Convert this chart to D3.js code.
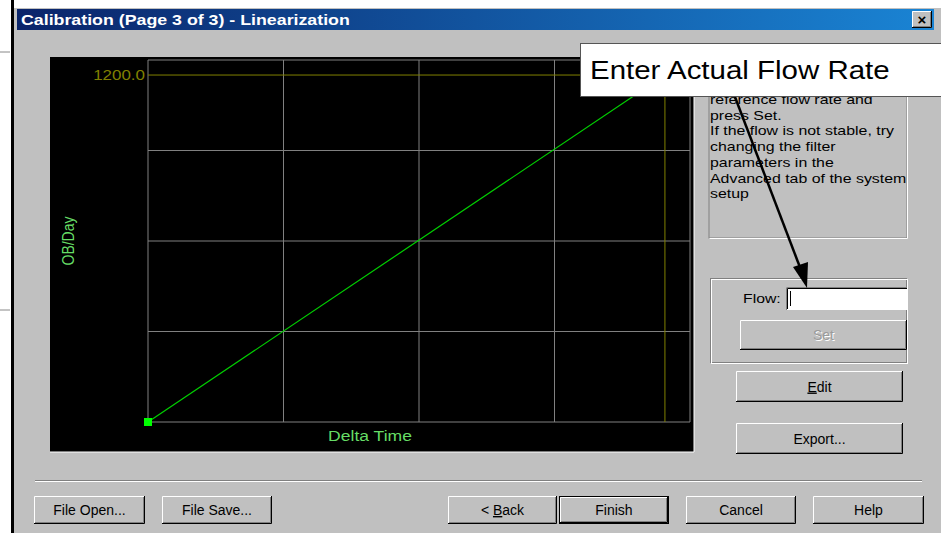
<!DOCTYPE html>
<html>
<head>
<meta charset="utf-8">
<script src="https://cdn.jsdelivr.net/npm/d3@7"></script>
<style>
	body { margin: 0; background: #fff; }
	text { font-family: 'Liberation Sans', Arial, sans-serif; }
</style>
</head>
<body>
<div id="d3-wrapper"></div>
<script>
// calibration data
const deltaTime = [0, 3.815];
const flowRate = [0, 1200];
const yTickValues = [1200];
const yTickLabels = ['1200.0'];
const xGridCount = 4;
const yGridCount = 4;
const yMax = 1252;

const helpLines = ['reference flow rate and', 'press Set.', 'If the flow is not stable, try',
	'changing the filter', 'parameters in the', 'Advanced tab of the system', 'setup'];
const bottomButtons = [
	{label: 'File Open...', x: 34, w: 111},
	{label: 'File Save...', x: 162, w: 110},
	{label: '< Back', x: 448, w: 109, u: 2},
	{label: 'Finish', x: 559, w: 110, def: true},
	{label: 'Cancel', x: 686, w: 110},
	{label: 'Help', x: 813, w: 111}
];

const W = 941, H = 533;
const SX = 1.17; // screenshot is stretched horizontally
const plot = {left: 148, right: 690, top: 60, bottom: 422};

const svg = d3.select('#d3-wrapper')
	.append('svg')
	.attr('width', W)
	.attr('height', H);

// window frame
svg.append('rect').attr('x', 0).attr('y', 0).attr('width', W).attr('height', H).attr('fill', '#fff');
svg.append('rect').attr('x', 14).attr('y', 8).attr('width', W - 14).attr('height', H - 8).attr('fill', '#c0c0c0');
svg.append('rect').attr('x', 11).attr('y', 0).attr('width', 3).attr('height', H).attr('fill', '#000');
svg.append('line').attr('x1', 0).attr('x2', 10).attr('y1', 52).attr('y2', 52).attr('stroke', '#888');
svg.append('line').attr('x1', 0).attr('x2', 10).attr('y1', 310).attr('y2', 310).attr('stroke', '#888');

const grad = svg.append('defs').append('linearGradient').attr('id', 'titlegrad');
grad.append('stop').attr('offset', '0%').attr('stop-color', '#0a246a');
grad.append('stop').attr('offset', '100%').attr('stop-color', '#1a84d4');
svg.append('rect').attr('x', 17).attr('y', 9).attr('width', 917).attr('height', 21).attr('fill', 'url(#titlegrad)');
stext(21, 25, 'Calibration (Page 3 of 3) - Linearization', 15.2, 'start', '#fff').style('font-weight', 'bold');

// close button
bevel(912, 11, 20, 17, false);
svg.append('text').attr('x', 922).attr('y', 25).attr('text-anchor', 'middle')
	.style('font-size', '15px').style('font-weight', 'bold').text('×');

// chart area
svg.append('rect').attr('x', 50).attr('y', 57).attr('width', 644).attr('height', 395).attr('fill', '#000');
svg.append('line').attr('x1', 50).attr('x2', 694).attr('y1', 452).attr('y2', 452).attr('stroke', '#fff');
svg.append('line').attr('x1', 694).attr('x2', 694).attr('y1', 57).attr('y2', 452).attr('stroke', '#fff');

const xScale = d3.scaleLinear().domain([0, xGridCount]).range([plot.left, plot.right]);
const yScale = d3.scaleLinear().domain([0, yMax]).range([plot.bottom, plot.top]);

const g = svg.append('g');
d3.range(0, xGridCount + 1).forEach(i => {
	g.append('line').attr('x1', xScale(i)).attr('x2', xScale(i))
		.attr('y1', plot.top).attr('y2', plot.bottom).attr('stroke', '#808080');
});
d3.range(0, yGridCount + 1).forEach(i => {
	const v = i * yMax / yGridCount;
	g.append('line').attr('x1', plot.left).attr('x2', plot.right)
		.attr('y1', yScale(v)).attr('y2', yScale(v)).attr('stroke', '#808080');
});

// max calibration point markers
g.append('line').attr('x1', plot.left).attr('x2', plot.right)
	.attr('y1', yScale(flowRate[1])).attr('y2', yScale(flowRate[1])).attr('stroke', '#808000');
g.append('line').attr('x1', xScale(deltaTime[1])).attr('x2', xScale(deltaTime[1]))
	.attr('y1', plot.top).attr('y2', plot.bottom).attr('stroke', '#808000');

const yAxis = d3.axisLeft(yScale).tickValues(yTickValues).tickSize(0)
	.tickFormat((d, i) => yTickLabels[i]);
const yAx = svg.append('g').attr('transform', `translate(${plot.left - 3},0)`).call(yAxis);
yAx.select('.domain').remove();
yAx.selectAll('text').attr('fill', '#808000').style('font-size', '14.5px')
	.style('font-family', "'Liberation Sans', Arial, sans-serif")
	.attr('x', 0)
	.attr('transform', `scale(${SX},1)`);

const line = d3.line().x((d, i) => xScale(deltaTime[i])).y(d => yScale(d));
g.append('path').datum(flowRate).attr('d', line).attr('fill', 'none')
	.attr('stroke', '#00d000').attr('stroke-width', 1.2);
g.append('rect').attr('x', xScale(deltaTime[0]) - 4).attr('y', yScale(flowRate[0]) - 4)
	.attr('width', 8).attr('height', 8).attr('fill', '#00ff00');

stext(370, 441, 'Delta Time', 15, 'middle', '#66dd66');
svg.append('text').attr('transform', `translate(74,241) scale(${SX},1) rotate(-90)`).attr('text-anchor', 'middle')
	.attr('fill', '#66dd66').style('font-size', '14px').text('OB/Day');

// help text box
svg.append('rect').attr('x', 709).attr('y', 60).attr('width', 198).attr('height', 178)
	.attr('fill', '#c0c0c0').attr('stroke', '#808080');
svg.append('path').attr('d', 'M709.5,238.5 H907.5 V60').attr('fill', 'none').attr('stroke', '#fff');
helpLines.forEach((t, i) => {
	stext(710, 104 + i * 15.7, t, 13.6, 'start', '#000');
});

// flow group
svg.append('rect').attr('x', 710.5).attr('y', 278.5).attr('width', 196).attr('height', 84)
	.attr('fill', 'none').attr('stroke', '#808080');
svg.append('rect').attr('x', 711.5).attr('y', 279.5).attr('width', 196).attr('height', 84)
	.attr('fill', 'none').attr('stroke', '#fff');
stext(743, 303, 'Flow:', 13.5, 'start', '#000');
svg.append('rect').attr('x', 786).attr('y', 287).attr('width', 121).attr('height', 23).attr('fill', '#fff');
svg.append('path').attr('d', 'M786.5,310 V287.5 H907').attr('fill', 'none').attr('stroke', '#808080');
svg.append('path').attr('d', 'M787.5,309 V288.5 H907').attr('fill', 'none').attr('stroke', '#000');
svg.append('line').attr('x1', 790.5).attr('x2', 790.5).attr('y1', 291).attr('y2', 306).attr('stroke', '#000');

button(740, 320, 167, 30, 'Set', {disabled: true});
button(736, 371, 167, 31, 'Edit', {u: 0});
button(736, 423, 167, 31, 'Export...');

// bottom separator
svg.append('line').attr('x1', 35).attr('x2', 922).attr('y1', 480.5).attr('y2', 480.5).attr('stroke', '#808080');
svg.append('line').attr('x1', 35).attr('x2', 922).attr('y1', 481.5).attr('y2', 481.5).attr('stroke', '#fff');

bottomButtons.forEach(b => button(b.x, 496, b.w, 28, b.label, b));

// annotation
svg.append('line').attr('x1', 735).attr('y1', 97).attr('x2', 801).attr('y2', 270)
	.attr('stroke', '#000').attr('stroke-width', 2.5);
svg.append('path').attr('d', 'M807,288 L793,267 L808,262 Z').attr('fill', '#000');
svg.append('rect').attr('x', 580.5).attr('y', 43.5).attr('width', 370).attr('height', 53)
	.attr('fill', '#fff').attr('stroke', '#555');
stext(590, 79, 'Enter Actual Flow Rate', 25.2, 'start', '#000');

function stext(x, y, str, size, anchor, color) {
	return svg.append('text')
		.attr('transform', `translate(${x},${y}) scale(${SX},1)`)
		.attr('text-anchor', anchor)
		.attr('fill', color)
		.style('font-size', size + 'px')
		.text(str);
}

function bevel(x, y, w, h, sunken) {
	svg.append('rect').attr('x', x).attr('y', y).attr('width', w).attr('height', h).attr('fill', '#c0c0c0');
	svg.append('path').attr('d', `M${x + 0.5},${y + h} V${y + 0.5} H${x + w}`)
		.attr('fill', 'none').attr('stroke', sunken ? '#808080' : '#fff');
	svg.append('path').attr('d', `M${x},${y + h - 0.5} H${x + w - 0.5} V${y}`)
		.attr('fill', 'none').attr('stroke', sunken ? '#fff' : '#000');
	svg.append('path').attr('d', `M${x + 1},${y + h - 1.5} H${x + w - 1.5} V${y + 1}`)
		.attr('fill', 'none').attr('stroke', '#808080');
}

function button(x, y, w, h, label, opt) {
	opt = opt || {};
	if (opt.def) {
		svg.append('rect').attr('x', x + 0.5).attr('y', y + 0.5).attr('width', w - 1).attr('height', h - 1)
			.attr('fill', 'none').attr('stroke', '#000');
		bevel(x + 1, y + 1, w - 2, h - 2, false);
	} else {
		bevel(x, y, w, h, false);
	}
	if (opt.disabled) {
		svg.append('text').attr('x', x + w / 2 + 1).attr('y', y + h / 2 + 6)
			.attr('text-anchor', 'middle').style('font-size', '14px').attr('fill', '#fff').text(label);
	}
	const t = svg.append('text').attr('x', x + w / 2).attr('y', y + h / 2 + 5)
		.attr('text-anchor', 'middle').style('font-size', '14px')
		.attr('fill', opt.disabled ? '#9a9a9a' : '#000');
	if (opt.u !== undefined) {
		t.append('tspan').text(label.slice(0, opt.u));
		t.append('tspan').style('text-decoration', 'underline').text(label[opt.u]);
		t.append('tspan').text(label.slice(opt.u + 1));
	} else {
		t.text(label);
	}
}
</script>
</body>
</html>
